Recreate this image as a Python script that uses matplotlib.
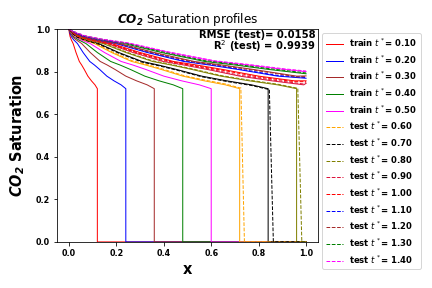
import numpy as np
import matplotlib
matplotlib.use("Agg")
import matplotlib.pyplot as plt

# similarity profile: S against x/t behind the front
xi_profile = [0.0, 0.02, 0.05, 0.1, 0.18, 0.3, 0.44, 0.54, 0.65, 0.8, 0.95, 1.1, 1.2]
s_profile = [1.0, 0.982, 0.965, 0.95, 0.932, 0.89, 0.848, 0.831, 0.81, 0.779, 0.757, 0.738, 0.72]

train_t = [0.1, 0.2, 0.3, 0.4, 0.5]
train_colors = ['red', 'blue', 'brown', 'green', 'magenta']
test_t = [0.6, 0.7, 0.8, 0.9, 1.0, 1.1, 1.2, 1.3, 1.4]
test_colors = ['orange', 'black', 'olive', 'crimson', 'red', 'blue', 'brown', 'green', 'magenta']

# saturation at x = 1 for the late times (front already out of the domain)
s_at_outlet = [0.745, 0.757, 0.769, 0.78, 0.79, 0.80]

# predicted front: x where prediction leaves the plateau, x where it hits zero
pred_front_top = [0.725, 0.845, 0.965]
pred_front_bottom = [0.74, 0.862, 0.982]
pred_shift = [0.004, -0.003, 0.003, 0.004, -0.004, 0.003, -0.003, 0.004, 0.003]

rmse = 0.0158
r2 = 0.9939


def true_curve(t, s_end=None):
    xs, ss = [], []
    for xi, s in zip(xi_profile, s_profile):
        if xi * t < 1.0:
            xs.append(xi * t)
            ss.append(s)
    if s_end is None:
        xs += [xs[-1], 1.0]
        ss += [0.0, 0.0]
    else:
        xs.append(1.0)
        ss.append(s_end)
    return xs, ss


def pred_curve(t, d, front=None, s_end=None):
    xs, ss = [], []
    lim = front[0] if front else 1.0
    for xi, s in zip(xi_profile, s_profile):
        if xi * t < lim:
            xs.append(xi * t)
            ss.append(min(1.0, s + d) if xi > 0 else 1.0)
    if front:
        xs += [front[0], front[1], 1.0]
        ss += [ss[-1], 0.0, 0.0]
    else:
        xs.append(1.0)
        ss.append(s_end + d)
    return xs, ss


fig = plt.figure(figsize=(6, 4), dpi=72)
ax = fig.add_axes([0.132, 0.16, 0.604, 0.739])

for t, c in zip(train_t, train_colors):
    x, s = true_curve(t)
    ax.plot(x, s, color=c, lw=1, label='train $t^*$= %.2f' % t)

n_front = len(pred_front_top)
for i, (t, c) in enumerate(zip(test_t, test_colors)):
    s_end = None if i < n_front else s_at_outlet[i - n_front]
    x, s = true_curve(t, s_end)
    ax.plot(x, s, color=c, lw=1)

for i, (t, c) in enumerate(zip(test_t, test_colors)):
    if i < n_front:
        x, s = pred_curve(t, pred_shift[i], front=(pred_front_top[i], pred_front_bottom[i]))
    else:
        x, s = pred_curve(t, pred_shift[i], s_end=s_at_outlet[i - n_front])
    ax.plot(x, s, color=c, lw=1, ls='--', label='test $t^*$= %.2f' % t)

ax.set_ylim(0, 1)
ax.set_xlabel('x', fontsize=14.5, fontweight='bold')
ax.set_ylabel(r'$\mathbfit{CO_2}$ Saturation', fontsize=14.5, fontweight='bold', labelpad=9)
ax.set_title(r'$\mathbfit{CO_2}$ Saturation profiles', fontsize=12)
for lab in ax.get_xticklabels() + ax.get_yticklabels():
    lab.set_fontweight('bold')
    lab.set_fontsize(8)

ax.text(0.99, 0.995, 'RMSE (test)= %.4f\nR$^2$ (test) = %.4f' % (rmse, r2),
        transform=ax.transAxes, ha='right', va='top', fontsize=10,
        fontweight='bold', linespacing=0.85)

ax.legend(loc='upper left', bbox_to_anchor=(1.0, 1.0), prop={'weight': 'bold', 'size': 8.5},
          labelspacing=0.5, borderaxespad=0.5)

fig.savefig('out.png', dpi=72)
